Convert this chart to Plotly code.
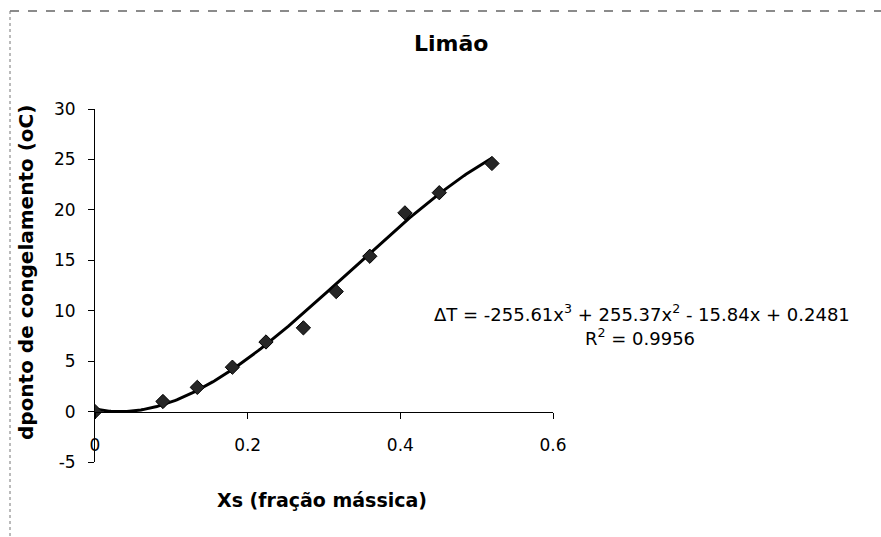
import numpy as np
import plotly.graph_objects as go

# Measured freezing-point depression for lemon juice
xs_fraction = [0.0, 0.089, 0.134, 0.180, 0.224, 0.273, 0.316, 0.360, 0.406, 0.451, 0.520]
delta_t = [0.0, 1.0, 2.4, 4.4, 6.9, 8.3, 11.9, 15.4, 19.7, 21.7, 24.6]

# Cubic trendline coefficients (highest power first) and fit quality
trend_coefs = [-255.61, 255.37, -15.84, 0.2481]
r_squared = 0.9956

x_ticks = [0, 0.2, 0.4, 0.6]
x_tick_text = ["0", "0.2", "0.4", "0.6"]
y_ticks = [-5, 0, 5, 10, 15, 20, 25, 30]
y_tick_text = ["-5", "0", "5", "10", "15", "20", "25", "30"]

W, H = 881, 537
L, R, T, B = 95, 553, 109, 462  # plot area edges in pixels

FONT = "DejaVu Sans, Arial, sans-serif"

x_fit = np.linspace(min(xs_fraction), max(xs_fraction), 200)
y_fit = np.polyval(trend_coefs, x_fit)

fig = go.Figure()
fig.add_trace(go.Scatter(
    x=x_fit, y=y_fit, mode="lines",
    line=dict(color="black", width=3), hoverinfo="skip", showlegend=False,
))
fig.add_trace(go.Scatter(
    x=xs_fraction, y=delta_t, mode="markers",
    marker=dict(symbol="diamond", size=11, color="#262626",
                line=dict(color="black", width=1)),
    showlegend=False,
))


def px_x(p):
    return (p - L) / (R - L)


def px_y(p):
    return (B - p) / (B - T)


y0_frac = (0 - y_ticks[0]) / (y_ticks[-1] - y_ticks[0])

eq_text = ("\u0394T = {:.2f}x<sup>3</sup> + {:.2f}x<sup>2</sup> - {:.2f}x + {:.4f}"
           .format(trend_coefs[0], trend_coefs[1], -trend_coefs[2], trend_coefs[3]))

fig.update_layout(
    width=W, height=H,
    margin=dict(l=L, r=W - R, t=T, b=H - B, pad=0),
    paper_bgcolor="white", plot_bgcolor="white",
    font=dict(family=FONT, color="black", size=17),
    xaxis=dict(
        range=[0, 0.6], tickvals=x_ticks, ticktext=x_tick_text,
        anchor="free", position=y0_frac,
        showline=True, linecolor="black", linewidth=1,
        ticks="outside", ticklen=6, tickcolor="black",
        ticklabelstandoff=12,
        showgrid=False, zeroline=False, tickfont=dict(size=17),
    ),
    yaxis=dict(
        range=[-5, 30], tickvals=y_ticks, ticktext=y_tick_text,
        showline=True, linecolor="black", linewidth=1,
        ticks="outside", ticklen=6, tickcolor="black",
        ticklabelstandoff=9,
        showgrid=False, zeroline=False, tickfont=dict(size=17),
    ),
    shapes=[
        # chart frame edges (top and left)
        dict(type="line", xref="paper", yref="paper",
             x0=px_x(10), x1=px_x(W), y0=px_y(11), y1=px_y(11),
             line=dict(color="#666666", width=1.5, dash="dash")),
        dict(type="line", xref="paper", yref="paper",
             x0=px_x(10), x1=px_x(10), y0=px_y(11), y1=px_y(H),
             line=dict(color="#777777", width=1, dash="dot")),
    ],
    annotations=[
        dict(text="<b>Limão</b>", xref="paper", yref="paper",
             x=px_x(451), y=px_y(43), xanchor="center", yanchor="middle",
             showarrow=False, font=dict(size=22)),
        dict(text="<b>Xs (fração mássica)</b>", xref="paper", yref="paper",
             x=px_x(322), y=px_y(500), xanchor="center", yanchor="middle",
             showarrow=False, font=dict(size=19)),
        dict(text="<b>dponto de congelamento (oC)</b>", xref="paper", yref="paper",
             x=px_x(26), y=px_y(273), xanchor="center", yanchor="middle",
             showarrow=False, textangle=-90, font=dict(size=20)),
        dict(text=eq_text, xref="paper", yref="paper",
             x=px_x(642), y=px_y(313), xanchor="center", yanchor="middle",
             showarrow=False, font=dict(size=18)),
        dict(text="R<sup>2</sup> = {:.4f}".format(r_squared), xref="paper", yref="paper",
             x=px_x(640), y=px_y(337), xanchor="center", yanchor="middle",
             showarrow=False, font=dict(size=18)),
    ],
)

fig.write_html("out.html")
